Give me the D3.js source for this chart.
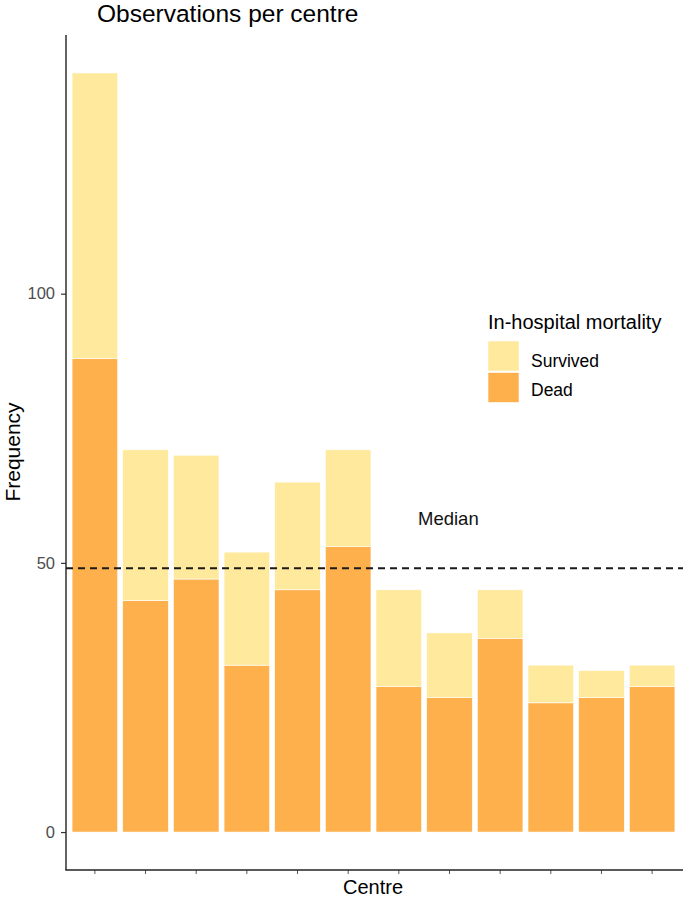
<!DOCTYPE html>
<html>
<head>
<meta charset="utf-8">
<script src="https://cdn.jsdelivr.net/npm/d3@7"></script>
<style>
  html, body { margin: 0; padding: 0; background: #fff; }
  text { font-family: "Liberation Sans", Arial, sans-serif; }
</style>
</head>
<body>
<svg id="chart" width="685" height="902"></svg>
<script>
const centres = ["C1","C2","C3","C4","C5","C6","C7","C8","C9","C10","C11","C12"];
const dead     = [88, 43, 47, 31, 45, 53, 27, 25, 36, 24, 25, 27];
const survived = [53, 28, 23, 21, 20, 18, 18, 12,  9,  7,  5,  4];
const seriesNames = ["Dead", "Survived"];
const yTicks = [0, 50, 100];
const medianValue = 49;

(function () {
const colors = { Dead: "#FDB04C", Survived: "#FEE99C" };

const svg = d3.select("#chart");
const pLeft = 66, pRight = 683, pTop = 35, pBottom = 870;

const rows = centres.map((c, i) => ({ centre: c, Dead: dead[i], Survived: survived[i] }));
const stack = d3.stack().keys(seriesNames)(rows);
const maxTotal = d3.max(rows, d => d.Dead + d.Survived);
const pad = maxTotal * 0.05;

const x = d3.scaleBand().domain(centres).range([pLeft, 681]).paddingInner(0.1).paddingOuter(0.12);
const y = d3.scaleLinear().domain([-pad, maxTotal + pad]).range([pBottom, pTop]);

// bars
svg.append("g").selectAll("g").data(stack).join("g")
  .attr("fill", d => colors[d.key])
  .selectAll("rect").data(d => d).join("rect")
  .attr("x", d => x(d.data.centre))
  .attr("width", x.bandwidth())
  .attr("y", d => y(d[1]))
  .attr("height", d => y(d[0]) - y(d[1]))
  .attr("stroke", "#fff").attr("stroke-width", 0.6);

// median line
svg.append("line")
  .attr("x1", pLeft).attr("x2", pRight)
  .attr("y1", y(medianValue)).attr("y2", y(medianValue))
  .attr("stroke", "#1a1a1a").attr("stroke-width", 2)
  .attr("stroke-dasharray", "7,5");

svg.append("text").attr("x", 418).attr("y", 525)
  .attr("font-size", 18.5).attr("fill", "#111").text("Median");

// y axis
const yAxis = d3.axisLeft(y).tickValues(yTicks).tickSize(5).tickPadding(6);
const gy = svg.append("g").attr("transform", `translate(${pLeft},0)`).call(yAxis);
gy.select(".domain").remove();
gy.selectAll(".tick line").attr("stroke", "#333").attr("stroke-width", 1.2);
gy.selectAll(".tick text").attr("font-size", 16.5).attr("fill", "#4d4d4d")
  .style("font-family", "'Liberation Sans', Arial, sans-serif");
svg.append("line").attr("x1", pLeft).attr("x2", pLeft).attr("y1", pTop).attr("y2", pBottom)
  .attr("stroke", "#222").attr("stroke-width", 1.4);

// x axis
const xAxis = d3.axisBottom(x).tickSize(4).tickFormat("");
const gx = svg.append("g").attr("transform", `translate(0,${pBottom})`).call(xAxis);
gx.select(".domain").remove();
gx.selectAll(".tick line").attr("stroke", "#555").attr("stroke-width", 1);
svg.append("line").attr("x1", pLeft - 0.7).attr("x2", pRight).attr("y1", pBottom).attr("y2", pBottom)
  .attr("stroke", "#222").attr("stroke-width", 1.4);

// axis titles
svg.append("text").attr("x", 373).attr("y", 894).attr("text-anchor", "middle")
  .attr("font-size", 20).attr("fill", "#000").text("Centre");
svg.append("text").attr("transform", "translate(20,452) rotate(-90)")
  .attr("text-anchor", "middle").attr("font-size", 21).attr("fill", "#000").text("Frequency");

// title
svg.append("text").attr("x", 97).attr("y", 22)
  .attr("font-size", 24.5).attr("fill", "#000").text("Observations per centre");

// legend
const lg = svg.append("g");
lg.append("text").attr("x", 488).attr("y", 329).attr("font-size", 20).attr("fill", "#000")
  .text("In-hospital mortality");
const legendItems = ["Survived", "Dead"];
legendItems.forEach((k, i) => {
  lg.append("rect").attr("x", 488).attr("y", 341 + i * 31.5).attr("width", 31).attr("height", 30)
    .attr("fill", colors[k]).attr("stroke", "#fff").attr("stroke-width", 0.6);
  lg.append("text").attr("x", 531).attr("y", 367 + i * 28.5).attr("font-size", 17.5).attr("fill", "#000")
    .text(k);
});
})();
</script>
</body>
</html>
